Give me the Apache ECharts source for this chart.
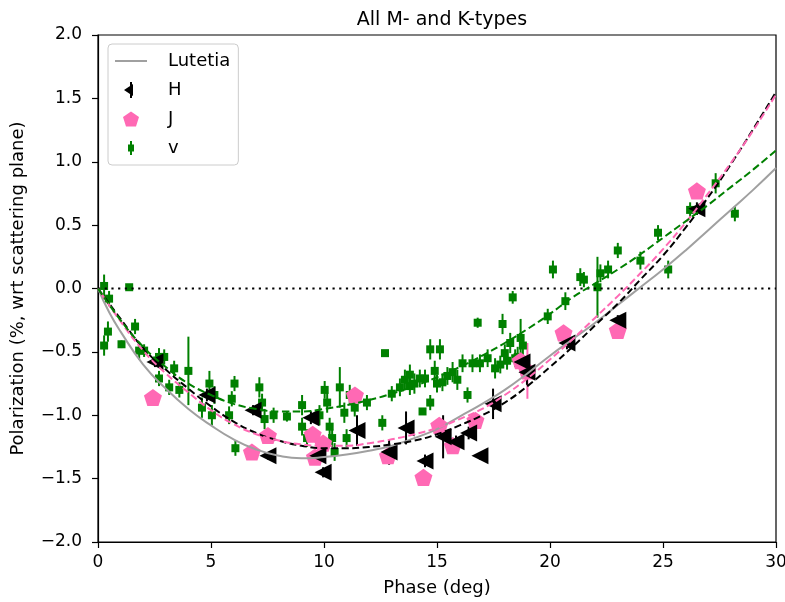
<!DOCTYPE html>
<html>
<head>
<meta charset="utf-8">
<script src="https://cdn.jsdelivr.net/npm/echarts@6/dist/echarts.min.js"></script>
<style>
  html, body { margin: 0; padding: 0; background: #fff; }
  #chart { width: 785px; height: 602px; }
</style>
</head>
<body>
<div id="chart"></div>
<script>
// Lutetia reference curve
var lutetiaPhase = [0, 0.5, 1, 2, 3, 4, 5, 6, 7, 8, 9, 10, 11, 12, 13, 14, 15, 16, 17, 18, 19, 20, 21, 22, 23, 24, 25, 26, 27, 28, 29, 30];
var lutetiaPol = [0, -0.19, -0.34, -0.60, -0.79, -0.95, -1.08, -1.19, -1.27, -1.32, -1.34, -1.33, -1.31, -1.28, -1.24, -1.18, -1.11, -1.01, -0.91, -0.80, -0.67, -0.53, -0.40, -0.27, -0.13, 0.01, 0.15, 0.30, 0.46, 0.62, 0.78, 0.95];

// fitted curves
var fitPhase = [0, 1, 2, 3, 4, 5, 6, 7, 8, 9, 10, 11, 12, 13, 14, 15, 16, 17, 18, 19, 20, 21, 22, 23, 24, 25, 26, 27, 28, 29, 30];
var hFit = [0, -0.24, -0.47, -0.64, -0.79, -0.93, -1.05, -1.14, -1.20, -1.24, -1.26, -1.26, -1.25, -1.23, -1.20, -1.15, -1.08, -1.00, -0.90, -0.77, -0.62, -0.46, -0.29, -0.12, 0.07, 0.26, 0.48, 0.72, 0.98, 1.26, 1.55];
var jFit = [0, -0.26, -0.49, -0.67, -0.82, -0.96, -1.07, -1.15, -1.20, -1.23, -1.24, -1.24, -1.22, -1.19, -1.15, -1.10, -1.03, -0.95, -0.84, -0.71, -0.56, -0.40, -0.23, -0.06, 0.12, 0.31, 0.52, 0.75, 0.99, 1.25, 1.53];
var vFit = [0, -0.25, -0.46, -0.62, -0.75, -0.84, -0.91, -0.95, -0.97, -0.97, -0.95, -0.92, -0.88, -0.83, -0.77, -0.70, -0.62, -0.53, -0.43, -0.32, -0.20, -0.07, 0.04, 0.15, 0.27, 0.40, 0.53, 0.66, 0.80, 0.94, 1.09];

// zero reference (dotted)
var zeroPhase = [0, 30];
var zeroPol = [0, 0];

// H band
var hPhase = [2.52, 4.82, 6.86, 7.52, 9.42, 9.73, 9.96, 11.46, 12.88, 13.63, 14.47, 15.27, 15.84, 16.4, 16.9, 17.48, 18.76, 18.98, 20.75, 23.0, 26.5];
var hPol = [-0.58, -0.84, -0.96, -1.32, -1.02, -1.32, -1.45, -1.12, -1.29, -1.10, -1.36, -1.17, -1.21, -1.14, -1.32, -0.91, -0.58, -0.66, -0.43, -0.25, 0.63];
var hErr = [0.04, 0.05, 0.04, 0.03, 0.05, 0.04, 0.04, 0.12, 0.10, 0.13, 0.05, 0.17, 0.05, 0.05, 0.03, 0.12, 0.05, 0.10, 0.05, 0.04, 0.05];

// J band
var jPhase = [2.43, 6.81, 7.52, 9.5, 9.6, 9.96, 11.37, 12.83, 14.4, 15.1, 15.7, 16.7, 18.7, 19.0, 20.6, 23.0, 26.5];
var jPol = [-0.86, -1.29, -1.16, -1.15, -1.33, -1.22, -0.84, -1.32, -1.49, -1.08, -1.24, -1.04, -0.57, -0.65, -0.35, -0.33, 0.77];
var jErr = [0.04, 0.04, 0.04, 0.05, 0.04, 0.05, 0.04, 0.04, 0.04, 0.06, 0.04, 0.05, 0.05, 0.22, 0.04, 0.04, 0.04];

// V band
var vPhase = [0.27, 0.49, 0.27, 0.44, 1.04, 1.38, 1.64, 1.82, 2.04, 2.7, 2.7, 2.93, 3.15, 3.37, 3.6, 4.0, 4.6, 4.93, 5.04, 5.15,
  5.8, 5.92, 6.04, 6.08, 7.14, 7.26, 7.37, 7.77, 8.36, 9.03, 9.03, 9.25, 9.8, 10.03, 10.14, 10.25, 10.36, 10.47, 10.7, 10.9,
  11.0, 11.14, 11.36, 11.9, 12.58, 12.7, 13.0, 13.36, 13.58, 13.8, 13.8, 14.0, 14.24, 14.36, 14.47, 14.7, 14.7, 14.9, 15.0, 15.13,
  15.24, 15.46, 15.69, 15.9, 16.13, 16.35, 16.57, 16.8, 16.9, 17.24, 17.57, 17.8, 17.9, 18.0, 18.1, 18.24, 18.35, 18.46, 18.57, 18.7,
  18.8, 19.9, 20.13, 20.68, 21.34, 21.5, 22.1, 22.23, 22.57, 23.0, 24.0, 24.78, 25.23, 26.2, 27.33, 28.18];
var vPol = [0.02, -0.08, -0.45, -0.34, -0.44, 0.01, -0.30, -0.49, -0.49, -0.54, -0.71, -0.54, -0.78, -0.63, -0.80, -0.65, -0.94, -0.75, -1.00, -0.84,
  -1.00, -0.87, -0.75, -1.26, -0.78, -0.90, -1.03, -1.00, -1.01, -0.92, -1.09, -1.18, -1.00, -0.80, -0.90, -1.09, -1.18, -1.29, -0.78, -0.98,
  -1.18, -0.84, -0.94, -0.90, -1.06, -0.51, -0.83, -0.78, -0.72, -0.68, -0.77, -0.75, -0.71, -0.97, -0.71, -0.48, -0.90, -0.65, -0.75, -0.48,
  -0.74, -0.69, -0.66, -0.72, -0.59, -0.84, -0.59, -0.27, -0.59, -0.55, -0.63, -0.60, -0.28, -0.51, -0.57, -0.43, -0.07, -0.55, -0.54, -0.39,
  -0.45, -0.22, 0.15, -0.10, 0.09, 0.07, 0.01, 0.12, 0.15, 0.30, 0.22, 0.44, 0.15, 0.62, 0.83, 0.59];
var vErr = [0.09, 0.06, 0.08, 0.08, 0.03, 0.02, 0.06, 0.07, 0.05, 0.07, 0.06, 0.06, 0.06, 0.06, 0.06, 0.27, 0.08, 0.10, 0.08, 0.07,
  0.07, 0.06, 0.06, 0.06, 0.08, 0.07, 0.08, 0.06, 0.04, 0.08, 0.07, 0.07, 0.08, 0.07, 0.08, 0.07, 0.07, 0.07, 0.16, 0.08,
  0.07, 0.08, 0.07, 0.06, 0.06, 0.02, 0.06, 0.07, 0.08, 0.08, 0.07, 0.08, 0.07, 0.02, 0.07, 0.08, 0.06, 0.08, 0.07, 0.08,
  0.07, 0.07, 0.08, 0.08, 0.07, 0.06, 0.07, 0.04, 0.07, 0.07, 0.08, 0.07, 0.08, 0.07, 0.07, 0.08, 0.05, 0.07, 0.08, 0.15,
  0.08, 0.06, 0.07, 0.07, 0.07, 0.06, 0.24, 0.07, 0.07, 0.06, 0.07, 0.06, 0.07, 0.06, 0.08, 0.06];

var xTicks = [0, 5, 10, 15, 20, 25, 30];
var yMin = -2, yMax = 2, yStep = 0.5;

function pairs(xs, ys) {
  var out = [];
  for (var i = 0; i < xs.length; i++) out.push([xs[i], ys[i]]);
  return out;
}
function errData(xs, ys, es) {
  var out = [];
  for (var i = 0; i < xs.length; i++) out.push([xs[i], ys[i] - es[i], ys[i] + es[i]]);
  return out;
}
function errSeries(name, color, data, width) {
  return {
    name: name,
    type: 'custom',
    data: data,
    itemStyle: { color: color },
    z: 2,
    renderItem: function (params, api) {
      var p0 = api.coord([api.value(0), api.value(1)]);
      var p1 = api.coord([api.value(0), api.value(2)]);
      return {
        type: 'line',
        shape: { x1: p0[0], y1: p0[1], x2: p1[0], y2: p1[1] },
        style: { stroke: color, lineWidth: width }
      };
    }
  };
}
function minusFmt(v) {
  var s = Math.abs(v).toFixed(1);
  return v < 0 ? '\u2212' + s : s;
}

var font = 'DejaVu Sans';
var pentagon = 'path://M0,-10 L9.51,-3.09 L5.88,8.09 L-5.88,8.09 L-9.51,-3.09 Z';
// legend icons: degenerate corner points keep the 32x16 box
var legL = 'path://M0,0 L0,0 Z M32,16 L32,16 Z M0,7 L32,7 L32,9 L0,9 Z';
var legH = 'path://M0,0 L0,0 Z M32,16 L32,16 Z M9,8 L18,2 L18,14 Z M15,0 L17,0 L17,16 L15,16 Z';
var legJ = 'path://M0,0 L0,0 Z M32,16 L32,16 Z M16,0.5 L24,6 L21,15.5 L11,15.5 L8,6 Z';
var legV = 'path://M0,0 L0,0 Z M32,16 L32,16 Z M13,4.5 L19,4.5 L19,11.5 L13,11.5 Z M15,1 L17,1 L17,15 L15,15 Z';

var chart = echarts.init(document.getElementById('chart'));
var option = {
  backgroundColor: '#fff',
  animation: false,
  title: {
    text: 'All M- and K-types',
    left: 437,
    top: 6,
    textAlign: 'center',
    textStyle: { fontFamily: font, fontSize: 19, fontWeight: 'normal', color: '#000' }
  },
  legend: {
    orient: 'vertical',
    left: 108,
    top: 44,
    padding: [8, 8, 8, 7],
    itemWidth: 32,
    itemHeight: 16,
    itemGap: 11,
    borderColor: '#ccc',
    borderWidth: 1,
    borderRadius: 4,
    backgroundColor: 'rgba(255,255,255,0.8)',
    textStyle: { fontFamily: font, fontSize: 18, lineHeight: 18, color: '#000', padding: [0, 0, 0, 16] },
    data: [
      { name: 'Lutetia', icon: legL },
      { name: 'H', icon: legH },
      { name: 'J', icon: legJ },
      { name: 'v', icon: legV }
    ]
  },
  grid: {
    left: 98, right: 9, top: 35, bottom: 60,
    outerBoundsMode: 'none',
    show: true, borderColor: '#000', borderWidth: 1.2
  },
  xAxis: {
    type: 'value',
    min: xTicks[0],
    max: xTicks[xTicks.length - 1],
    interval: 5,
    name: 'Phase (deg)',
    nameLocation: 'middle',
    nameGap: 37,
    nameTextStyle: { fontFamily: font, fontSize: 18, color: '#000' },
    axisLine: { onZero: false, lineStyle: { color: '#000', width: 1.2 } },
    axisTick: { length: 6, lineStyle: { color: '#000', width: 1.2 } },
    axisLabel: { fontFamily: font, fontSize: 17, color: '#000', margin: 12 },
    splitLine: { show: false }
  },
  yAxis: {
    type: 'value',
    min: yMin,
    max: yMax,
    interval: yStep,
    name: 'Polarization (%, wrt scattering plane)',
    nameLocation: 'middle',
    nameGap: 71,
    nameTextStyle: { fontFamily: font, fontSize: 18, color: '#000' },
    axisLine: { show: true, onZero: false, lineStyle: { color: '#000', width: 1.2 } },
    axisTick: { show: true, length: 6, lineStyle: { color: '#000', width: 1.2 } },
    axisLabel: { fontFamily: font, fontSize: 17, color: '#000', margin: 16, formatter: minusFmt },
    splitLine: { show: false }
  },
  series: [
    errSeries('v', 'green', errData(vPhase, vPol, vErr), 2),
    {
      name: 'v',
      type: 'scatter',
      symbol: 'rect',
      symbolSize: 8,
      itemStyle: { color: 'green', opacity: 1 },
      data: pairs(vPhase, vPol),
      z: 3
    },
    errSeries('J', '#ff69b4', errData(jPhase, jPol, jErr), 2),
    {
      name: 'J',
      type: 'scatter',
      symbol: pentagon,
      symbolKeepAspect: true,
      symbolSize: 18,
      itemStyle: { color: '#ff69b4', opacity: 1 },
      data: pairs(jPhase, jPol),
      z: 4
    },
    errSeries('H', '#000', errData(hPhase, hPol, hErr), 2),
    {
      name: 'H',
      type: 'scatter',
      symbol: 'triangle',
      symbolRotate: 90,
      symbolSize: 17,
      itemStyle: { color: '#000', opacity: 1 },
      data: pairs(hPhase, hPol),
      z: 5
    },
    {
      name: 'zero',
      type: 'line',
      symbol: 'none',
      silent: true,
      lineStyle: { color: '#000', width: 2.2, type: [2.2, 4.5], cap: 'butt' },
      data: pairs(zeroPhase, zeroPol),
      z: 6
    },
    {
      name: 'Lutetia',
      type: 'line',
      smooth: true,
      symbol: 'none',
      lineStyle: { color: '#a0a0a0', width: 2 },
      itemStyle: { color: '#a0a0a0' },
      data: pairs(lutetiaPhase, lutetiaPol),
      z: 6
    },
    {
      name: 'H fit',
      type: 'line',
      smooth: true,
      symbol: 'none',
      lineStyle: { color: '#000', width: 2, type: [7, 3.5] },
      data: pairs(fitPhase, hFit),
      z: 7
    },
    {
      name: 'J fit',
      type: 'line',
      smooth: true,
      symbol: 'none',
      lineStyle: { color: '#ff69b4', width: 2, type: [7, 3.5], dashOffset: 5 },
      data: pairs(fitPhase, jFit),
      z: 7
    },
    {
      name: 'v fit',
      type: 'line',
      smooth: true,
      symbol: 'none',
      lineStyle: { color: 'green', width: 2, type: [7.5, 3.5] },
      data: pairs(fitPhase, vFit),
      z: 7
    }
  ]
};
chart.setOption(option);
</script>
</body>
</html>
